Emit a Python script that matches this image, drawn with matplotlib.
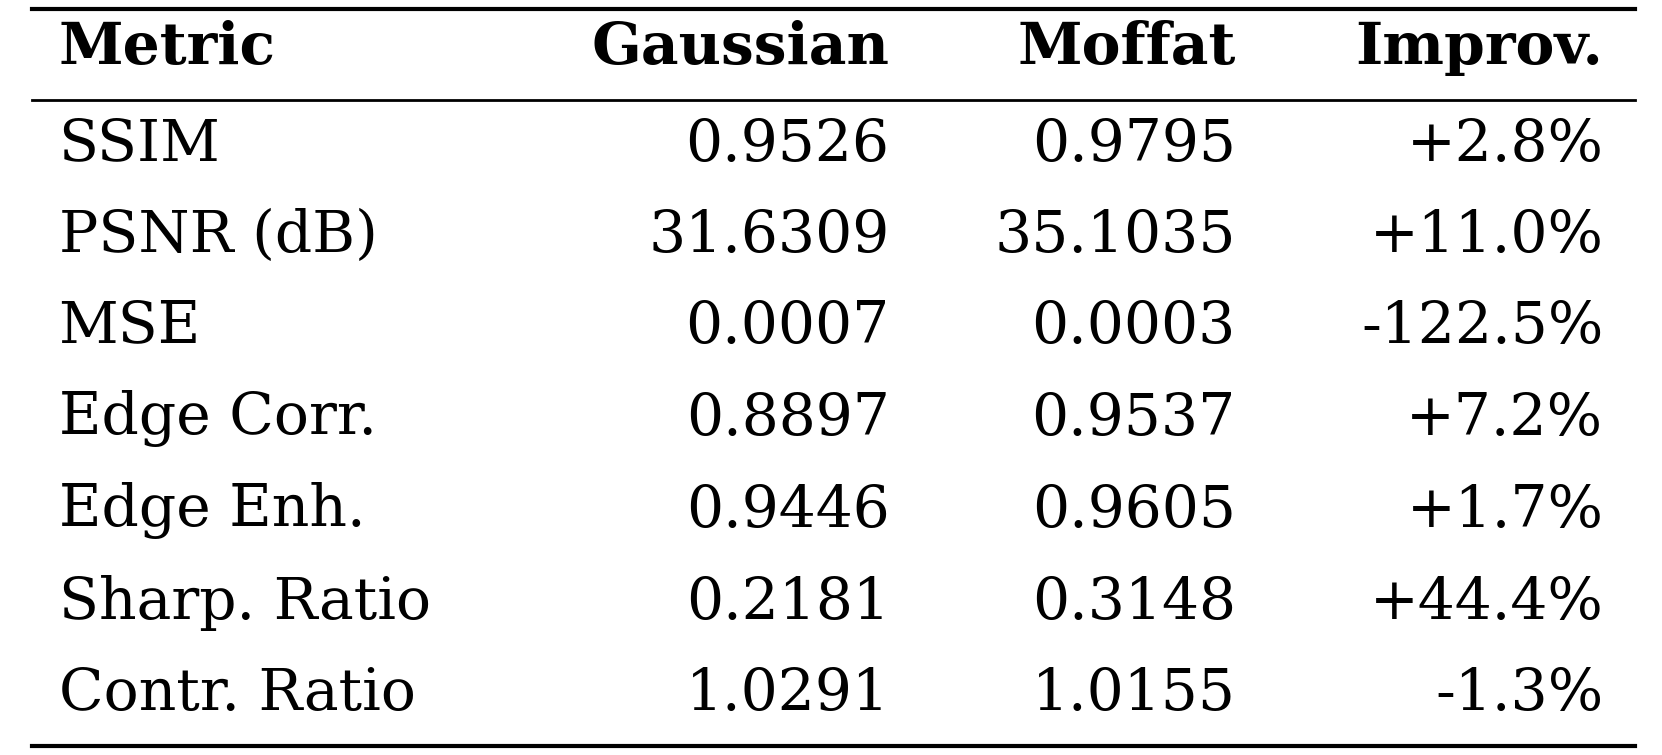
import matplotlib
matplotlib.use("Agg")
import matplotlib.pyplot as plt

header = ["Metric", "Gaussian", "Moffat", "Improv."]
metrics = ["SSIM", "PSNR (dB)", "MSE", "Edge Corr.", "Edge Enh.", "Sharp. Ratio", "Contr. Ratio"]
gaussian = ["0.9526", "31.6309", "0.0007", "0.8897", "0.9446", "0.2181", "1.0291"]
moffat = ["0.9795", "35.1035", "0.0003", "0.9537", "0.9605", "0.3148", "1.0155"]
improv = ["+2.8%", "+11.0%", "-122.5%", "+7.2%", "+1.7%", "+44.4%", "-1.3%"]

fig = plt.figure(figsize=(16.62, 7.55), dpi=100)
ax = fig.add_axes([0, 0, 1, 1])
ax.set_xlim(0, 1560); ax.set_ylim(705, 0); ax.axis("off")

fam = ["DejaVu Serif"]
fs = 42
xs = [55, 835, 1160, 1505]
has = ["left", "right", "right", "right"]
for x, h, t in zip(xs, has, header):
    ax.text(x, 45, t, ha=h, va="center", fontsize=fs, fontweight="bold", family=fam)
rows_y = [135, 220, 305, 391, 477, 563, 648]
for i, y in enumerate(rows_y):
    for x, h, t in zip(xs, has, [metrics[i], gaussian[i], moffat[i], improv[i]]):
        ax.text(x, y, t, ha=h, va="center", fontsize=fs, family=fam)
ax.plot([30, 1535], [8, 8], color="black", lw=3)
ax.plot([30, 1535], [93, 93], color="black", lw=2)
ax.plot([30, 1535], [697, 697], color="black", lw=3)
fig.savefig("out.png", dpi=100)
